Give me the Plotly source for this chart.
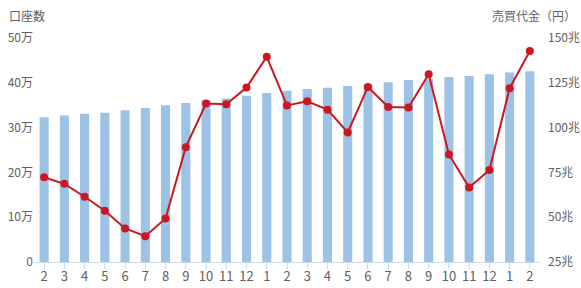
import plotly.graph_objects as go

months = ["2","3","4","5","6","7","8","9","10","11","12","1","2","3","4","5","6","7","8","9","10","11","12","1","2"]
accounts_man = [32.3,32.7,33.1,33.3,33.9,34.4,35.0,35.5,36.1,36.5,37.1,37.7,38.2,38.6,38.9,39.3,39.7,40.1,40.6,40.8,41.3,41.5,41.9,42.3,42.6]
trading_cho = [72.3,68.6,61.4,53.6,43.7,39.4,49.3,89.1,113.4,113.0,122.4,139.5,112.4,114.7,110.0,97.3,122.7,111.5,111.2,129.8,85.0,66.6,76.4,122.0,142.7]

left_vals = [0,10,20,30,40,50]
left_text = ["0","10万","20万","30万","40万","50万"]
right_vals = [25,50,75,100,125,150]
right_text = ["25兆","50兆","75兆","100兆","125兆","150兆"]

x = list(range(len(months)))
font = "Noto Sans CJK JP, Noto Sans, sans-serif"
gray = "#606060"

ML, MR, MT, MB = 34, 41, 38, 26
W, H = 581, 288

fig = go.Figure()
fig.add_trace(go.Bar(x=x, y=accounts_man, marker=dict(color="#9cc2e5", line=dict(width=0)),
                     yaxis="y", name="口座数"))
fig.add_trace(go.Scatter(x=x, y=trading_cho, mode="lines+markers", yaxis="y2",
                         line=dict(color="#cc1720", width=2),
                         marker=dict(color="#cc1720", size=8), name="売買代金"))

pw = W - ML - MR
ph = H - MT - MB

def px_to_paper(px, py):
    return (px - ML) / pw, (H - MB - py) / ph

ax1, ay1 = px_to_paper(7, 16)
ax2, ay2 = px_to_paper(578, 16)

fig.update_layout(
    width=W, height=H,
    margin=dict(l=ML, r=MR, t=MT, b=MB, autoexpand=False),
    paper_bgcolor="white", plot_bgcolor="white",
    showlegend=False, bargap=0.55,
    font=dict(family=font, size=12, color=gray),
    xaxis=dict(tickmode="array", tickvals=x, ticktext=months, range=[-0.5, len(months)-0.5],
               showgrid=False, zeroline=False, showline=True, linecolor="#c9dcef", linewidth=1,
               ticks="outside", tickson="boundaries", ticklen=6, tickcolor="#c9dcef",
               ticklabelstandoff=-4, automargin=False,
               tickfont=dict(size=13, color=gray)),
    yaxis=dict(range=[0, 50], tickmode="array", tickvals=left_vals, ticktext=left_text,
               showgrid=False, zeroline=False, showline=False, ticks="", automargin=False,
               tickfont=dict(size=12, color=gray)),
    yaxis2=dict(range=[25, 150], overlaying="y", side="right", tickmode="array",
                tickvals=right_vals, ticktext=right_text, showgrid=False, zeroline=False,
                showline=False, ticks="", ticklabelstandoff=7, automargin=False,
                tickfont=dict(size=12, color=gray)),
    annotations=[
        dict(text="口座数", x=ax1, y=ay1, xref="paper", yref="paper", showarrow=False,
             xanchor="left", yanchor="middle", font=dict(size=12, color=gray)),
        dict(text="売買代金（円）", x=ax2, y=ay2, xref="paper", yref="paper", showarrow=False,
             xanchor="right", yanchor="middle", font=dict(size=12, color=gray)),
    ],
)

fig.write_html("out.html")
